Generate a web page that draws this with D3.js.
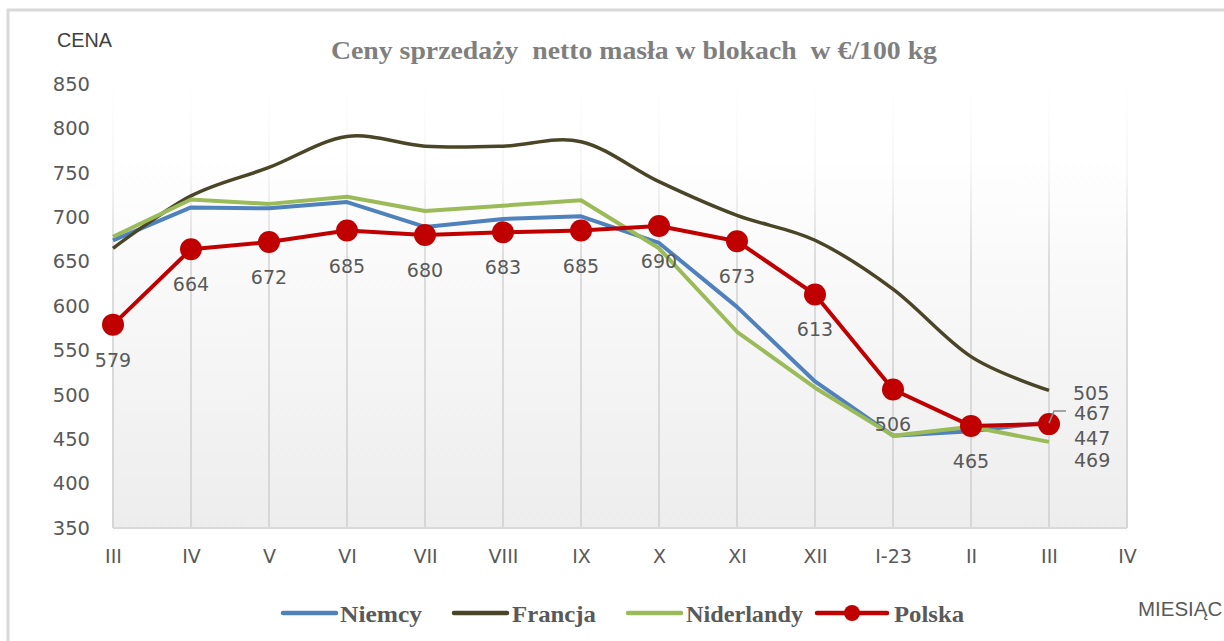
<!DOCTYPE html>
<html>
<head>
  <meta charset="utf-8">
  <title>Ceny sprzedaży netto masła w blokach</title>
  <style>
    body { margin: 0; background: #fff; }
  </style>
</head>
<body>
  <svg width="1224" height="641"></svg>
  <script src="https://d3js.org/d3.v7.min.js"></script>
  <script>

  // dane
  var months = ["III", "IV", "V", "VI", "VII", "VIII", "IX", "X", "XI", "XII", "I-23", "II", "III ", "IV "];
  var monthLabels = ["III", "IV", "V", "VI", "VII", "VIII", "IX", "X", "XI", "XII", "I-23", "II", "III", "IV"];
  var niemcy     = [674, 711, 710, 717, 689, 698, 701, 671, 599, 515, 454, 459, 469];
  var francja    = [665, 724, 756, 791, 780, 780, 785, 740, 702, 674, 619, 543, 505];
  var niderlandy = [678, 720, 715, 723, 707, 713, 719, 665, 571, 508, 454, 464, 447];
  var polska     = [579, 664, 672, 685, 680, 683, 685, 690, 673, 613, 506, 465, 467];
  var yTicks = [350, 400, 450, 500, 550, 600, 650, 700, 750, 800, 850];

  var svg = d3.select("svg");
  var pLeft = 113, pRight = 1127, pTop = 84, pBottom = 528;

  var x = d3.scalePoint().domain(months).range([pLeft, pRight]);
  var y = d3.scaleLinear().domain([350, 850]).range([pBottom, pTop]);

  var defs = svg.append("defs");
  var bg = defs.append("linearGradient").attr("id", "bg")
    .attr("x1", 0).attr("y1", 0).attr("x2", 0).attr("y2", 1);
  bg.append("stop").attr("offset", "0%").attr("stop-color", "#ffffff");
  bg.append("stop").attr("offset", "15%").attr("stop-color", "#ffffff");
  bg.append("stop").attr("offset", "100%").attr("stop-color", "#ededed");
  var gl = defs.append("linearGradient").attr("id", "grid")
    .attr("gradientUnits", "userSpaceOnUse")
    .attr("x1", 0).attr("y1", pTop).attr("x2", 0).attr("y2", pBottom);
  gl.append("stop").attr("offset", "0%").attr("stop-color", "#ffffff");
  gl.append("stop").attr("offset", "20%").attr("stop-color", "#f6f6f6");
  gl.append("stop").attr("offset", "40%").attr("stop-color", "#dcdcdc");
  gl.append("stop").attr("offset", "100%").attr("stop-color", "#d6d6d6");

  // ramka
  svg.append("rect")
    .attr("x", 8).attr("y", 10).attr("width", 1400).attr("height", 800)
    .attr("fill", "none").attr("stroke", "#d9d9d9").attr("stroke-width", 3);

  // tło wykresu
  svg.append("rect")
    .attr("x", pLeft).attr("y", pTop).attr("width", pRight - pLeft).attr("height", pBottom - pTop)
    .attr("fill", "url(#bg)");

  // pionowe linie siatki
  svg.append("g").selectAll("line")
    .data(months)
    .enter().append("line")
    .attr("x1", function(d) { return x(d); })
    .attr("x2", function(d) { return x(d); })
    .attr("y1", pTop).attr("y2", pBottom)
    .attr("stroke", "url(#grid)").attr("stroke-width", 2);

  svg.append("line")
    .attr("x1", pLeft).attr("x2", pRight).attr("y1", pBottom).attr("y2", pBottom)
    .attr("stroke", "#d9d9d9").attr("stroke-width", 2);

  // osie
  var yAxis = svg.append("g")
    .attr("transform", "translate(" + (pLeft - 20) + ",0)")
    .call(d3.axisLeft(y).tickValues(yTicks).tickSize(0).tickPadding(3));
  yAxis.select(".domain").remove();
  yAxis.selectAll("text")
    .attr("font-family", "DejaVu Sans").attr("font-size", 19.5).attr("fill", "#595959");

  var xAxis = svg.append("g")
    .attr("transform", "translate(0," + pBottom + ")")
    .call(d3.axisBottom(x).tickSize(0).tickPadding(22)
      .tickFormat(function(d, i) { return monthLabels[i]; }));
  xAxis.select(".domain").remove();
  xAxis.selectAll("text")
    .attr("font-family", "DejaVu Sans").attr("font-size", 19).attr("fill", "#595959");

  // serie
  var series = [
    { name: "Niemcy", values: niemcy, color: "#4f81bd", width: 4, curve: d3.curveLinear },
    { name: "Francja", values: francja, color: "#4a4526", width: 3.5, curve: d3.curveCardinal.tension(0) },
    { name: "Niderlandy", values: niderlandy, color: "#9bbb59", width: 4, curve: d3.curveLinear },
    { name: "Polska", values: polska, color: "#c00000", width: 4, curve: d3.curveLinear }
  ];

  series.forEach(function(s) {
    var line = d3.line()
      .x(function(d, i) { return x(months[i]); })
      .y(function(d) { return y(d); })
      .curve(s.curve);
    svg.append("path")
      .datum(s.values)
      .attr("d", line)
      .attr("fill", "none")
      .attr("stroke", s.color)
      .attr("stroke-width", s.width)
      .attr("stroke-linejoin", "round");
  });

  svg.append("g").selectAll("circle")
    .data(polska)
    .enter().append("circle")
    .attr("cx", function(d, i) { return x(months[i]); })
    .attr("cy", function(d) { return y(d); })
    .attr("r", 11)
    .attr("fill", "#c00000");

  // etykiety danych
  var labelFont = function(sel) {
    sel.attr("font-family", "DejaVu Sans").attr("font-size", 19)
      .attr("fill", "#595959").attr("dominant-baseline", "central");
  };

  svg.append("g").selectAll("text")
    .data(polska.slice(0, polska.length - 1))
    .enter().append("text")
    .attr("x", function(d, i) { return x(months[i]); })
    .attr("y", function(d) { return y(d) + 35; })
    .attr("text-anchor", "middle")
    .text(function(d) { return d; })
    .call(labelFont);

  var last = polska.length - 1;
  var lx = x(months[last]);
  var endLabels = [
    { v: francja[last], dx: 24, dy: 3 },
    { v: polska[last], dx: 25, dy: -11 },
    { v: niderlandy[last], dx: 25, dy: -4 },
    { v: niemcy[last], dx: 25, dy: 38 }
  ];
  svg.append("g").selectAll("text")
    .data(endLabels)
    .enter().append("text")
    .attr("x", function(d) { return lx + d.dx; })
    .attr("y", function(d) { return y(d.v) + d.dy; })
    .text(function(d) { return d.v; })
    .call(labelFont);

  svg.append("polyline")
    .attr("points", [[lx, y(polska[last]) - 1], [lx + 5, y(polska[last]) - 13], [lx + 17, y(polska[last]) - 13]].join(" "))
    .attr("fill", "none").attr("stroke", "#8c8c8c").attr("stroke-width", 1.5);

  // tytuł i opisy osi
  svg.append("text")
    .attr("x", 331).attr("y", 59)
    .attr("textLength", 606).attr("lengthAdjust", "spacingAndGlyphs")
    .attr("font-family", "Liberation Serif").attr("font-weight", "bold")
    .attr("font-size", 26).attr("fill", "#7f7f7f")
    .style("white-space", "pre")
    .text("Ceny sprzedaży  netto masła w blokach  w €/100 kg");

  svg.append("text")
    .attr("x", 57).attr("y", 47)
    .attr("textLength", 55).attr("lengthAdjust", "spacingAndGlyphs")
    .attr("font-family", "Liberation Sans").attr("font-size", 20).attr("fill", "#404040")
    .text("CENA");

  svg.append("text")
    .attr("x", 1138).attr("y", 616)
    .attr("font-family", "Liberation Sans").attr("font-size", 20.5).attr("fill", "#595959")
    .text("MIESIĄC");

  // legenda
  var legendPos = [
    { lx: 283, tx: 340, tw: 82 },
    { lx: 454, tx: 512, tw: 84 },
    { lx: 628, tx: 686, tw: 117 },
    { lx: 817, tx: 894, tw: 70 }
  ];
  var leg = svg.append("g").selectAll("g")
    .data(series)
    .enter().append("g");
  leg.append("line")
    .attr("x1", function(d, i) { return legendPos[i].lx; })
    .attr("x2", function(d, i) { return legendPos[i].lx + (i === 3 ? 70 : 53); })
    .attr("y1", 613).attr("y2", 613)
    .attr("stroke", function(d) { return d.color; })
    .attr("stroke-width", 4.5)
    .attr("stroke-linecap", "round");
  leg.filter(function(d) { return d.name === "Polska"; })
    .append("circle")
    .attr("cx", legendPos[3].lx + 35).attr("cy", 613).attr("r", 8)
    .attr("fill", "#c00000");
  leg.append("text")
    .attr("x", function(d, i) { return legendPos[i].tx; })
    .attr("y", 622)
    .attr("textLength", function(d, i) { return legendPos[i].tw; })
    .attr("lengthAdjust", "spacingAndGlyphs")
    .attr("font-family", "Liberation Serif").attr("font-weight", "bold")
    .attr("font-size", 23).attr("fill", "#595959")
    .text(function(d) { return d.name; });

  </script>
</body>
</html>
